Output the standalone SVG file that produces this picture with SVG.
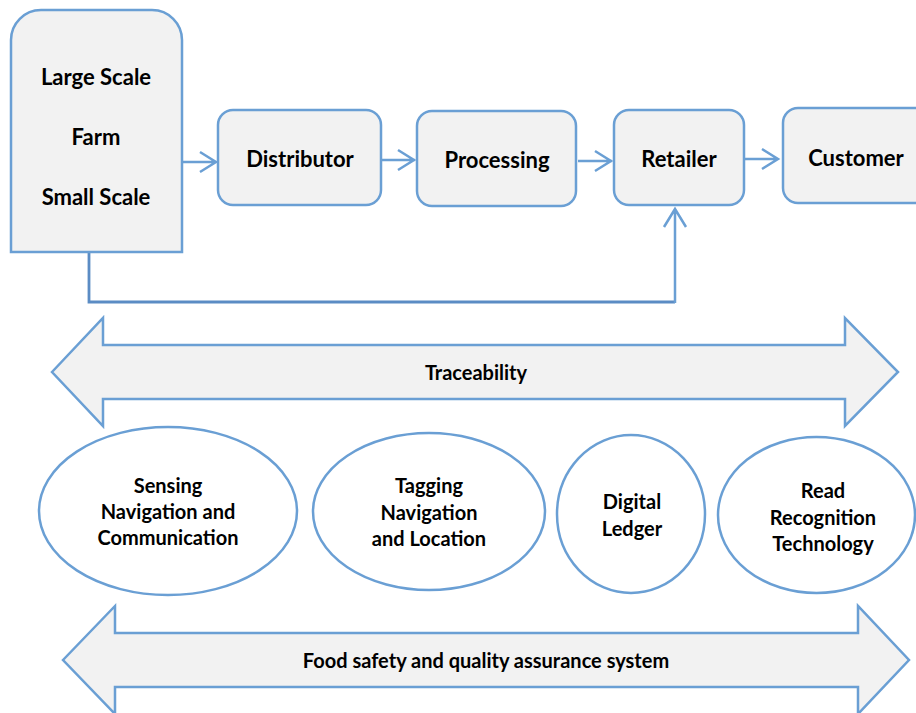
<svg xmlns="http://www.w3.org/2000/svg" width="916" height="713" viewBox="0 0 916 713">
<defs>
<style>
.box{fill:#f2f2f2;stroke:#6a9fd4;stroke-width:2.5}
.ell{fill:#ffffff;stroke:#6a9fd4;stroke-width:2.5}
.big{fill:#f2f2f2;stroke:#6a9fd4;stroke-width:2.5;stroke-linejoin:miter}
.con{fill:none;stroke:#6a9fd4;stroke-width:2.5}
.fb{fill:none;stroke:#5b8cc4;stroke-width:2.8}
text{font-family:Lato,"Liberation Sans",sans-serif;font-weight:bold;fill:#000;text-anchor:middle}
.t1{font-size:22px}
.t2{font-size:20px}
</style>
</defs>
<g id="connectors">
<path class="con" d="M182,162 H216 M200,152 L216,162 L200,172"/>
<path class="con" d="M381,160 H415 M398,150 L414,160 L398,170"/>
<path class="con" d="M578,161 H612 M595,151 L611,161 L595,171"/>
<path class="con" d="M744,159 H778 M762,149 L778,159 L762,169"/>
<path class="fb" d="M89,252 V302 H675"/>
<path class="con" d="M675,303 V209 M664,227 L675,209 L686,227"/>
</g>
<g id="farm">
<path class="box" d="M11,252 V40 A30,30 0 0 1 41,10 H152 A30,30 0 0 1 182,40 V252 Z"/>
<text class="t1" x="96" y="85">Large Scale</text>
<text class="t1" x="96" y="145">Farm</text>
<text class="t1" x="96" y="205">Small Scale</text>
</g>
<g id="distributor">
<rect class="box" x="218" y="110" width="163" height="95" rx="15"/>
<text class="t1" x="300" y="167">Distributor</text>
</g>
<g id="processing">
<rect class="box" x="417" y="111" width="159" height="95" rx="15"/>
<text class="t1" x="497" y="168">Processing</text>
</g>
<g id="retailer">
<rect class="box" x="614" y="110" width="130" height="95" rx="15"/>
<text class="t1" x="679" y="167">Retailer</text>
</g>
<g id="customer">
<rect class="box" x="783" y="108" width="150" height="95" rx="15"/>
<text class="t1" x="856" y="166">Customer</text>
</g>
<g id="traceability">
<path class="big" d="M52,372 L103,318 V345 H845 V318 L898,372 L845,426 V399 H103 V426 Z"/>
<text class="t2" x="476" y="380">Traceability</text>
</g>
<g id="sensing">
<ellipse class="ell" cx="168" cy="511" rx="129" ry="84"/>
<text class="t2" x="168" y="493">Sensing</text>
<text class="t2" x="168" y="519">Navigation and</text>
<text class="t2" x="168" y="545">Communication</text>
</g>
<g id="tagging">
<ellipse class="ell" cx="429" cy="511.5" rx="116" ry="78.5"/>
<text class="t2" x="429" y="493">Tagging</text>
<text class="t2" x="429" y="520">Navigation</text>
<text class="t2" x="429" y="546">and Location</text>
</g>
<g id="ledger">
<ellipse class="ell" cx="631" cy="514" rx="74" ry="79"/>
<text class="t2" x="632" y="509">Digital</text>
<text class="t2" x="632" y="536">Ledger</text>
</g>
<g id="read">
<ellipse class="ell" cx="816.5" cy="515" rx="98.5" ry="78"/>
<text class="t2" x="823" y="498">Read</text>
<text class="t2" x="823" y="525">Recognition</text>
<text class="t2" x="823" y="551">Technology</text>
</g>
<g id="food-safety">
<path class="big" d="M63,660 L115,606 V633 H858 V606 L909,660 L858,714 V687 H115 V714 Z"/>
<text class="t2" x="486" y="668">Food safety and quality assurance system</text>
</g>
</svg>
